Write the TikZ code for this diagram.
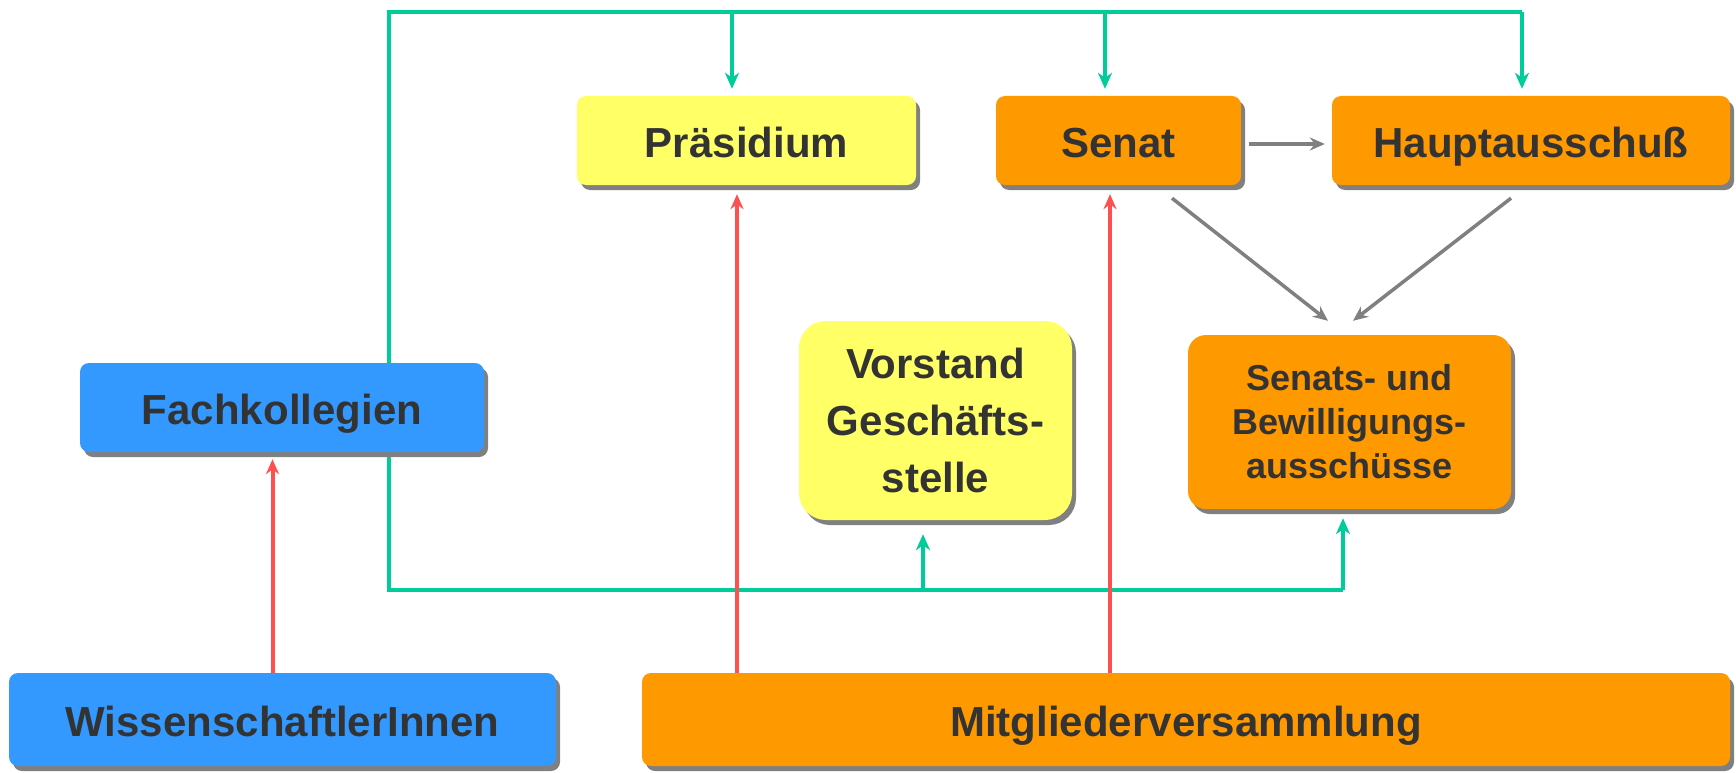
\documentclass[tikz,border=0pt]{standalone}
\usepackage{fontspec}
\setmainfont{Liberation Sans}
\usetikzlibrary{arrows.meta,shadows}
\definecolor{cyel}{HTML}{FFFF66}
\definecolor{cora}{HTML}{FF9900}
\definecolor{cblu}{HTML}{3399FF}
\definecolor{cgrn}{HTML}{00CC99}
\definecolor{cred}{HTML}{FF5050}
\definecolor{cgry}{HTML}{808080}
\definecolor{ctxt}{HTML}{333333}
\tikzset{
  boxbase/.style={draw=none, rounded corners=9pt, text=ctxt,
    font=\fontsize{42}{50}\selectfont\bfseries, inner sep=0pt,
    drop shadow={shadow xshift=4pt, shadow yshift=-5pt, fill=cgry, opacity=1}},
  onebox/.style={boxbase, text height=34pt, text depth=0pt},
  gline/.style={draw=cgrn, line width=4.5pt},
  garrow/.style={draw=cgrn, line width=4.5pt, -{Stealth[length=16pt,width=14pt,inset=5pt]}},
  rarrow/.style={draw=cred, line width=4pt, -{Stealth[length=15pt,width=13pt,inset=5pt]}},
  gyarrow/.style={draw=cgry, line width=3.5pt, -{Stealth[length=15pt,width=13pt,inset=5pt]}},
}
\begin{document}
\begin{tikzpicture}[x=1pt,y=-1pt]
\useasboundingbox[fill=white] (0,0) rectangle (1736,773);
% green network
\coordinate (gtl) at (389,12);
\coordinate (gtr) at (1522,12);
\coordinate (gbl) at (389,590);
\coordinate (gbr) at (1343,590);
\coordinate (gd1) at (732,12);
\coordinate (gd2) at (1105,12);
\coordinate (gu1) at (923,590);
\draw[gline, line join=miter] (gtr) -- (gtl) -- (gbl) -- (gbr);
% nodes
\node[onebox, fill=cyel, minimum width=339pt, minimum height=89pt] (pra) at (746.5,140.5) {Präsidium};
\node[onebox, fill=cora, minimum width=245pt, minimum height=89pt] (sen) at (1118.5,140.5) {Senat};
\node[onebox, fill=cora, minimum width=398pt, minimum height=89pt] (hpt) at (1531,140.5) {Hauptausschuß};
\node[boxbase, fill=cyel, minimum width=273pt, minimum height=199pt, rounded corners=27pt,
  align=center, font=\fontsize{42}{57}\selectfont\bfseries] (vor) at (935.5,420.5) {Vorstand\\Geschäfts-\\stelle};
\node[boxbase, fill=cora, minimum width=323pt, minimum height=174pt, rounded corners=18pt,
  align=center, font=\fontsize{36}{44}\selectfont\bfseries] (sua) at (1349.5,422) {Senats- und\\Bewilligungs-\\ausschüsse};
\node[onebox, fill=cblu, minimum width=404pt, minimum height=89pt] (fach) at (282,407.5) {Fachkollegien};
\node[onebox, fill=cblu, minimum width=547pt, minimum height=93pt] (wis) at (282.5,719.5) {WissenschaftlerInnen};
\node[onebox, fill=cora, minimum width=1088pt, minimum height=93pt] (mit) at (1186,719.5) {Mitgliederversammlung};
% green arrows
\draw[garrow, shorten >=7pt] (gd1) -- (gd1 |- pra.north);
\draw[garrow, shorten >=7pt] (gd2) -- (gd2 |- sen.north);
\draw[garrow, shorten >=7pt] (gtr) -- (gtr |- hpt.north);
\draw[garrow, shorten >=14pt] (gu1) -- (gu1 |- vor.south);
\draw[garrow, shorten >=9pt] (gbr) -- (gbr |- sua.south);
% red arrows
\coordinate (r1) at ([xshift=-9.5pt]fach.south);
\coordinate (r2) at ([xshift=-9.5pt]pra.south);
\coordinate (r3) at ([xshift=-8.5pt]sen.south);
\draw[rarrow, shorten >=7pt] (r1 |- wis.north) -- (r1);
\draw[rarrow, shorten >=9pt] (r2 |- mit.north) -- (r2);
\draw[rarrow, shorten >=9pt] (r3 |- mit.north) -- (r3);
% gray arrows
\draw[gyarrow] ([shift={(8,3.5)}]sen.east) -- ([shift={(-7,3.5)}]hpt.west);
\draw[gyarrow] ([shift={(53.5,13)}]sen.south) -- ([shift={(-21.5,-14)}]sua.north);
\draw[gyarrow] ([shift={(-20,13)}]hpt.south) -- ([shift={(3.5,-14)}]sua.north);
\end{tikzpicture}
\end{document}
